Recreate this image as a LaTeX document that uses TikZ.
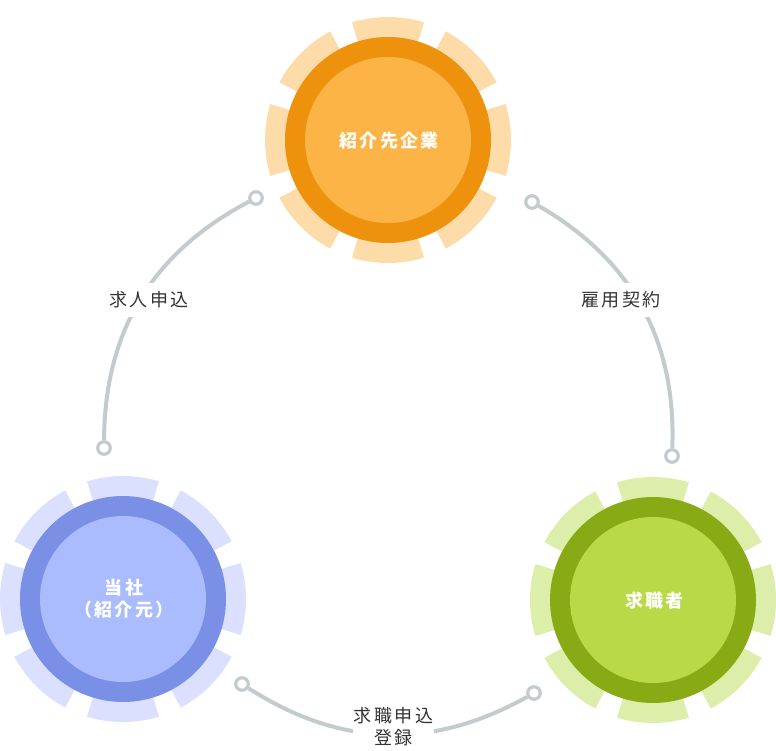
\documentclass[tikz,border=0pt]{standalone}
\usepackage{fontspec}
\newfontfamily\jp{Noto Sans CJK JP}[LetterSpace=13]
\definecolor{oPetal}{HTML}{FDDCAA}
\definecolor{oRing}{HTML}{EE920E}
\definecolor{oIn}{HTML}{FCB446}
\definecolor{bPetal}{HTML}{DAE0FD}
\definecolor{bRing}{HTML}{7A8FE6}
\definecolor{bIn}{HTML}{AABCFD}
\definecolor{gPetal}{HTML}{DDEEAA}
\definecolor{gRing}{HTML}{88AA14}
\definecolor{gIn}{HTML}{B9D946}
\definecolor{connGray}{HTML}{C3CCCD}
\definecolor{txtGray}{HTML}{333333}
\newcommand\drawgear[4]{%
  \foreach \a in {0,45,...,315}
    \fill[#2] (#1) -- ++(\a-17:123) arc[start angle=\a-17,end angle=\a+17,radius=123] -- cycle;
  \fill[#3] (#1) circle[radius=103];
  \fill[#4] (#1) circle[radius=83];
}
\tikzset{
  circtext/.style={text=white,font=\jp\bfseries\fontsize{18}{22}\selectfont,align=center,inner sep=0pt},
  conn/.style={draw=connGray,line width=4pt},
  endpt/.style={circle,draw=connGray,fill=white,line width=3.2pt,minimum size=12.5pt,inner sep=0pt},
  lbl/.style={fill=white,text=txtGray,font=\jp\fontsize{18}{22}\selectfont,align=center,inner xsep=1pt,inner ysep=9pt}
}
\begin{document}
\begin{tikzpicture}[x=1pt,y=-1pt]
\useasboundingbox (0,0) rectangle (776,750);
\coordinate (cE) at (388,140);
\coordinate (cT) at (123,599);
\coordinate (cK) at (653,600);
\drawgear{cE}{oPetal}{oRing}{oIn}
\drawgear{cT}{bPetal}{bRing}{bIn}
\drawgear{cK}{gPetal}{gRing}{gIn}
\node[circtext] (emp) at (389,141) {紹介先企業};
\node[circtext] (self) at (124,599) {当社\\（紹介元）};
\node[circtext] (seek) at (654.5,600.5) {求職者};
% endpoints
\node[endpt] (l1) at (256,198) {};
\node[endpt] (l2) at (104,448) {};
\node[endpt] (r1) at (532,202) {};
\node[endpt] (r2) at (672,456) {};
\node[endpt] (b1) at (242,684) {};
\node[endpt] (b2) at (534,693) {};
\draw[conn] (l1) to[bend right=31] (l2);
\draw[conn] (r1) to[bend left=31] (r2);
\draw[conn] (b1) to[bend right=31] (b2);
\node[lbl] (t1) at (149,300) {求人申込};
\node[lbl] (t2) at (621,300) {雇用契約};
\node[lbl] (t3) at (393.5,726.5) {求職申込\\登録};
\end{tikzpicture}
\end{document}
